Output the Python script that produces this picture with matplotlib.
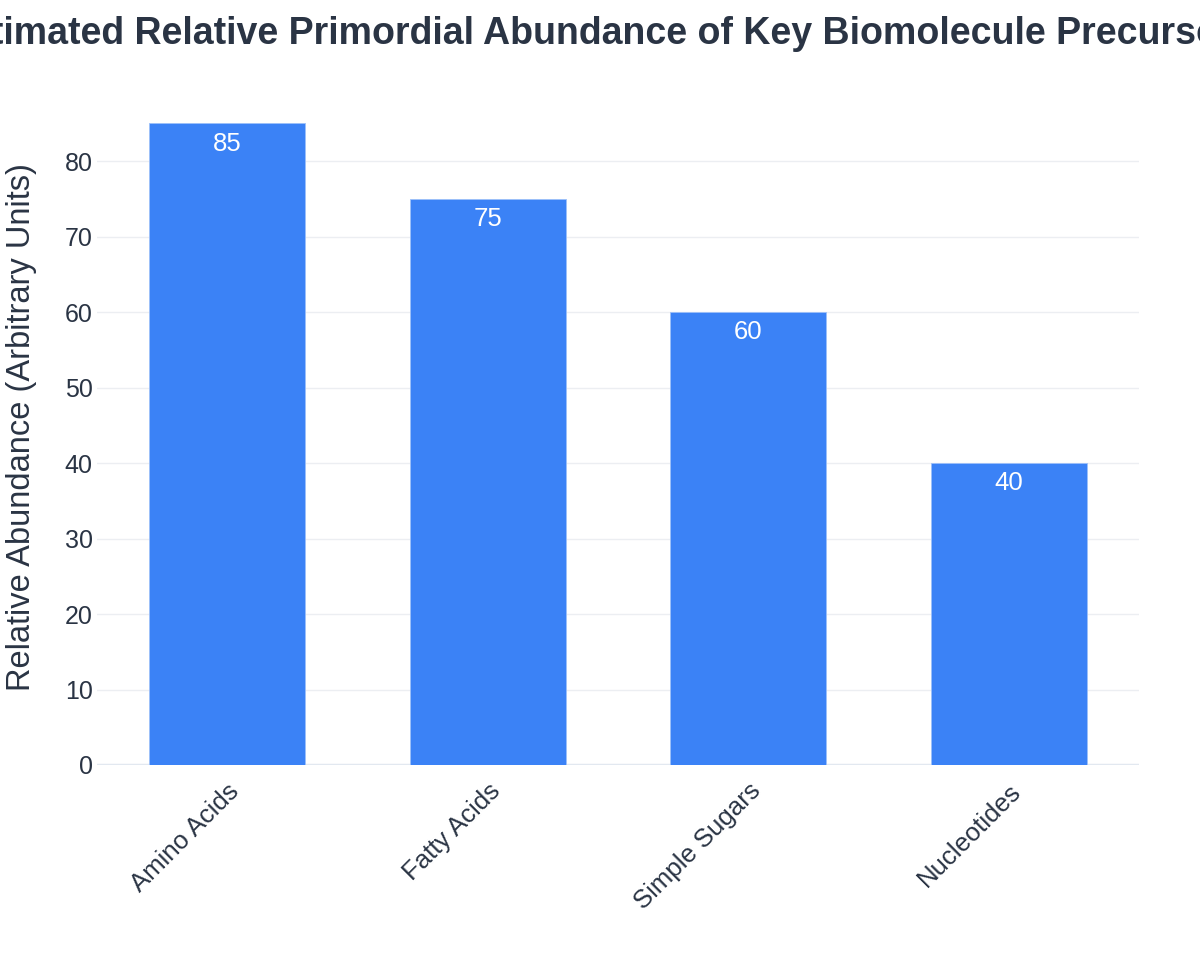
import matplotlib
matplotlib.use("Agg")
import matplotlib.pyplot as plt

categories = ["Amino Acids", "Fatty Acids", "Simple Sugars", "Nucleotides"]
values = [85, 75, 60, 40]
yticks = [0, 10, 20, 30, 40, 50, 60, 70, 80]

plt.rcParams['font.family'] = ['Liberation Sans', 'DejaVu Sans']
text_color = "#2a3444"
bar_color = "#3b82f6"

fig = plt.figure(figsize=(12, 9.75), dpi=100)
ax = fig.add_axes([97/1200, 1 - 765/975, (1139-97)/1200, (765-89.5)/975])

x = list(range(len(categories)))
bars = ax.bar(x, values, width=0.6, color=bar_color, edgecolor="#9dc0f9", linewidth=0.6, zorder=3)
ax.set_xlim(-0.5, len(categories) - 0.5)
ax.set_ylim(0, max(values) * 1.0526)

ax.set_yticks(yticks)
ax.set_yticklabels([str(t) for t in yticks], fontsize=18, color=text_color)
ax.set_xticks(x)
ax.set_xticklabels(categories, rotation=45, ha="right", rotation_mode="anchor",
                   fontsize=18.5, color=text_color)
ax.tick_params(axis="both", length=0)
ax.tick_params(axis="y", pad=3)
ax.tick_params(axis="x", pad=10)

ax.grid(axis="y", color="#eceef2", linewidth=1, zorder=0)
ax.axhline(0, color="#e2e8f0", linewidth=2.5, zorder=2)
for s in ax.spines.values():
    s.set_visible(False)

for xi, v in zip(x, values):
    ax.annotate(str(v), (xi, v), xytext=(0, -6), textcoords="offset points",
                ha="center", va="top", color="white", fontsize=18.5, zorder=4)

ax.set_ylabel("Relative Abundance (Arbitrary Units)", fontsize=23.5, color=text_color, labelpad=20)
fig.text(600/1200, 1 - 34/975, "Estimated Relative Primordial Abundance of Key Biomolecule Precursors",
         ha="center", va="center", fontsize=27, fontweight="bold", color=text_color)

fig.savefig("out.png", dpi=100, facecolor="white")
